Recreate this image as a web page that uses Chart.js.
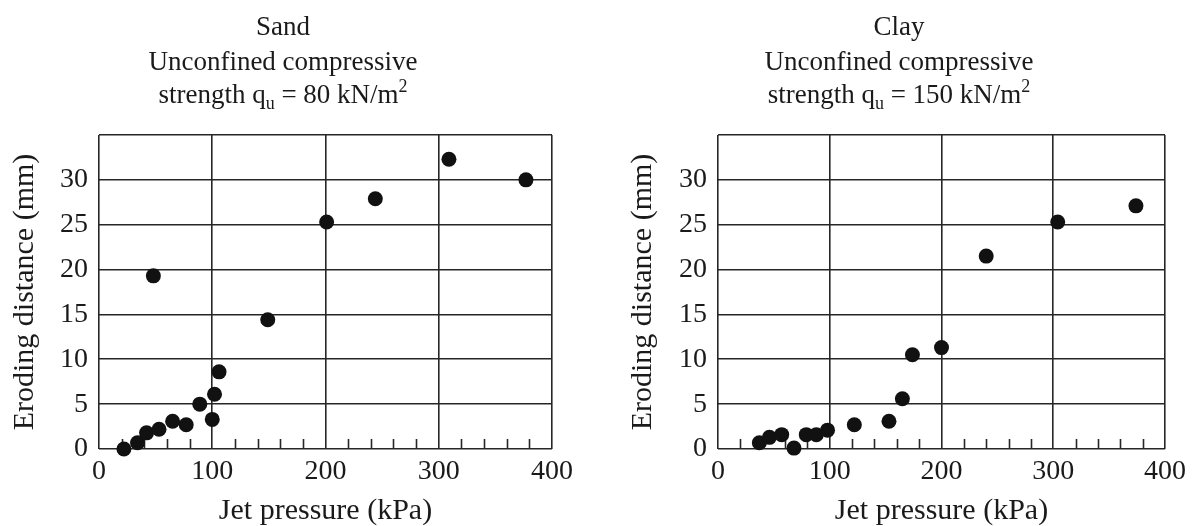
<!DOCTYPE html>
<html><head><meta charset="utf-8">
<script src="https://cdn.jsdelivr.net/npm/chart.js@4/dist/chart.umd.min.js"></script>
<style>
html,body{margin:0;padding:0;background:#fff;width:1195px;height:526px;overflow:hidden}
.box{position:absolute;top:0;height:526px}
#b1{left:0;width:600px}
#b2{left:618px;width:577px}
</style></head><body>
<div class="box" id="b1"><canvas id="c1"></canvas></div>
<div class="box" id="b2"><canvas id="c2"></canvas></div>
<script>
// ---- data ----
const xTickValues = [0, 100, 200, 300, 400];
const xMinorTicks = [20, 40, 60, 80, 120, 140, 160, 180, 220, 240, 260, 280, 320, 340, 360, 380];
const yTickValues = [0, 5, 10, 15, 20, 25, 30];
const yGridValues = [0, 5, 10, 15, 20, 25, 30, 35];

const sandPressure = [22, 34, 42, 53, 65, 77, 89, 100, 102, 106, 48, 149, 201, 244, 309, 377];
const sandErosion  = [0, 0.7, 1.8, 2.2, 3.1, 2.7, 5.0, 3.3, 6.1, 8.6, 19.3, 14.4, 25.3, 27.9, 32.3, 30.0];

const clayPressure = [37, 46, 57, 68, 79, 88, 98, 122, 153, 165, 174, 200, 240, 304, 374];
const clayErosion  = [0.7, 1.3, 1.6, 0.1, 1.6, 1.6, 2.1, 2.7, 3.1, 5.6, 10.5, 11.3, 21.5, 25.3, 27.1];

const sandTitle = ["Sand", "Unconfined compressive"];
const sandStrength = "80";
const clayTitle = ["Clay", "Unconfined compressive"];
const clayStrength = "150";

const xAxisTitle = "Jet pressure (kPa)";
const yAxisTitle = "Eroding distance (mm)";

// ---- styling ----
const SERIF = "'Liberation Serif', 'DejaVu Serif', serif";
const GRID = '#262626';
const TXT = '#1a1a1a';

const decor = {
  id: 'decor',
  beforeDatasetsDraw(chart) {
    const ctx = chart.ctx, x = chart.scales.x, ca = chart.chartArea;
    ctx.save();
    ctx.strokeStyle = GRID; ctx.lineWidth = 1.6;
    xMinorTicks.forEach(v => {
      const px = Math.round(x.getPixelForValue(v)) + 0.5;
      ctx.beginPath(); ctx.moveTo(px, ca.bottom); ctx.lineTo(px, ca.bottom - 10); ctx.stroke();
    });
    ctx.restore();
  },
  afterDraw(chart, args, opts) {
    const ctx = chart.ctx, ca = chart.chartArea;
    const cx = ca.left + (ca.right - ca.left) / 2 - 42.5;
    ctx.save();
    ctx.fillStyle = TXT;
    ctx.textBaseline = 'alphabetic';
    ctx.textAlign = 'left';
    const big = "27px " + SERIF, small = "18px " + SERIF;
    const lines = opts.lines;
    const baselines = [35, 70, 103];
    lines.forEach((t, i) => {
      ctx.font = big;
      const w = ctx.measureText(t).width;
      ctx.fillText(t, cx - w / 2, baselines[i]);
    });
    const segs = [
      {t: "strength q", f: big, dy: 0},
      {t: "u", f: small, dy: 6},
      {t: " = " + opts.strength + " kN/m", f: big, dy: 0},
      {t: "2", f: small, dy: -11}
    ];
    let total = 0;
    segs.forEach(s => { ctx.font = s.f; s.w = ctx.measureText(s.t).width; total += s.w; });
    let px = cx - total / 2;
    segs.forEach(s => { ctx.font = s.f; ctx.fillText(s.t, px, baselines[2] + s.dy); px += s.w; });
    ctx.restore();
  }
};

function makeChart(id, xs, ys, lines, strength, yWidth, padRight) {
  const pts = xs.map((x, i) => ({x: x, y: ys[i]}));
  return new Chart(document.getElementById(id), {
    type: 'scatter',
    data: {datasets: [{data: pts, pointRadius: 7.5, pointHoverRadius: 7.5,
      backgroundColor: '#111', borderColor: '#111', borderWidth: 0, clip: false}]},
    options: {
      responsive: true, maintainAspectRatio: false, animation: false,
      events: [],
      layout: {padding: {left: 0, right: padRight, top: 135, bottom: 0}},
      plugins: {legend: {display: false}, tooltip: {enabled: false}, title: {display: false},
        decor: {lines: lines, strength: strength}},
      scales: {
        x: {
          type: 'linear', min: 0, max: 400,
          afterBuildTicks: s => { s.ticks = xTickValues.map(v => ({value: v})); },
          afterFit: s => { s.height = 77; },
          grid: {color: GRID, lineWidth: 1.6, drawTicks: false},
          border: {display: false},
          ticks: {padding: 9, color: TXT, maxRotation: 0, autoSkip: false,
            font: {family: SERIF, size: 28, lineHeight: 1}},
          title: {display: true, text: xAxisTitle, color: TXT,
            font: {family: SERIF, size: 30, lineHeight: 1}, padding: {top: 0, bottom: 0}}
        },
        y: {
          type: 'linear', min: 0, max: 35,
          afterBuildTicks: s => { s.ticks = yGridValues.map(v => ({value: v})); },
          afterFit: s => { s.width = yWidth; },
          grid: {color: GRID, lineWidth: 1.6, drawTicks: false},
          border: {display: false},
          ticks: {padding: 11, color: TXT, autoSkip: false,
            font: {family: SERIF, size: 28, lineHeight: 1},
            callback: v => yTickValues.includes(v) ? String(v) : ''},
          title: {display: true, text: yAxisTitle, color: TXT,
            font: {family: SERIF, size: 30, lineHeight: 1}, padding: {top: 10.5, bottom: 0}}
        }
      }
    },
    plugins: [decor]
  });
}

makeChart('c1', sandPressure, sandErosion, sandTitle, sandStrength, 99, 48);
makeChart('c2', clayPressure, clayErosion, clayTitle, clayStrength, 100, 27);
</script>
</body></html>
